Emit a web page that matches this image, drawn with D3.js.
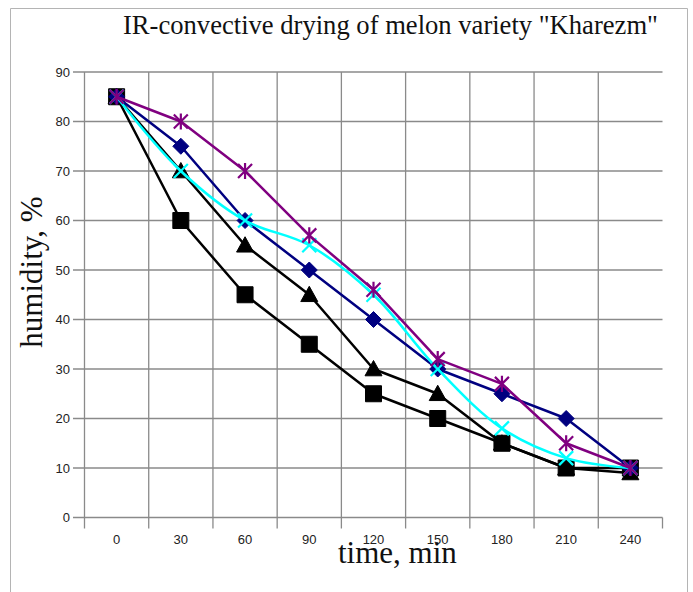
<!DOCTYPE html>
<html>
<head>
<meta charset="utf-8">
<script src="https://cdn.jsdelivr.net/npm/d3@7"></script>
<style>
  html, body { margin: 0; padding: 0; background: #fff; }
  svg { display: block; }
</style>
</head>
<body>
<script>
const categories = [0, 30, 60, 90, 120, 150, 180, 210, 240];
const yTicks = [0, 10, 20, 30, 40, 50, 60, 70, 80, 90];
const squares   = [85, 60, 45, 35, 25, 20, 15, 10, 10];
const triangles = [85, 70, 55, 45, 30, 25, 15, 10, 9];
const diamonds  = [85, 75, 60, 50, 40, 30, 25, 20, 10];
const crosses   = [85, 70, 60, 55, 45, 30, 18, 12, 10];
const stars     = [85, 80, 70, 57, 46, 32, 27, 15, 10];

const W = 693, H = 592;
const svg = d3.select("body").append("svg").attr("width", W).attr("height", H);

// outer frame
svg.append("path").attr("d", `M10.5,${H}V8.5H687.5V${H}`)
  .attr("fill", "none").attr("stroke", "#b4b4b4").attr("stroke-width", 1);

const x = d3.scaleBand().domain(categories).range([84.5, 662.5]).paddingInner(0).paddingOuter(0);
const y = d3.scaleLinear().domain([0, 90]).range([517.5, 72]);
const cx = c => x(c) + x.bandwidth() / 2;

const grid = svg.append("g").attr("stroke", "#8a8a8a").attr("stroke-width", 1.3);
yTicks.forEach(t => {
  grid.append("line").attr("x1", 73).attr("x2", 662.5).attr("y1", y(t)).attr("y2", y(t));
});
categories.forEach(c => {
  grid.append("line").attr("x1", x(c)).attr("x2", x(c)).attr("y1", y(90)).attr("y2", y(0) + 11);
});
grid.append("line").attr("x1", x.range()[1]).attr("x2", x.range()[1]).attr("y1", y(0)).attr("y2", y(0) + 11);

// tick labels
const lab = svg.append("g").attr("font-family", "Liberation Sans, Arial, sans-serif")
  .attr("font-size", 13).attr("fill", "#222");
yTicks.forEach(t => {
  lab.append("text").attr("x", 70).attr("y", y(t)).attr("dy", "0.35em")
    .attr("text-anchor", "end").text(t);
});
categories.forEach(c => {
  lab.append("text").attr("x", cx(c)).attr("y", 544)
    .attr("text-anchor", "middle").text(c);
});

// titles
svg.append("text").attr("x", 123).attr("y", 34)
  .attr("font-family", "Liberation Serif, Times New Roman, serif").attr("font-size", 26.6)
  .attr("fill", "#111").text('IR-convective drying of melon variety "Kharezm"');
svg.append("text").attr("x", 338).attr("y", 563)
  .attr("font-family", "Liberation Serif, Times New Roman, serif").attr("font-size", 31)
  .attr("fill", "#111").text("time, min");
svg.append("text").attr("transform", "translate(42,272) rotate(-90)")
  .attr("text-anchor", "middle")
  .attr("font-family", "Liberation Serif, Times New Roman, serif").attr("font-size", 31)
  .attr("fill", "#111").text("humidity, %");

// marker shapes
const sq = s => `M${-s},${-s}H${s}V${s}H${-s}Z`;
const tri = s => `M0,${-s}L${s},${s*0.8}L${-s},${s*0.8}Z`;
const dia = s => `M0,${-s}L${s},0L0,${s}L${-s},0Z`;
const xm = s => `M${-s},${-s}L${s},${s}M${s},${-s}L${-s},${s}`;
const ast = s => `M${-s},${-s}L${s},${s}M${s},${-s}L${-s},${s}M0,${-s*1.15}V${s*1.15}`;

const series = [
  { data: squares, color: "#000000", shape: sq(8), fill: true, curve: d3.curveLinear },
  { data: triangles, color: "#000000", shape: tri(8.5), fill: true, curve: d3.curveLinear },
  { data: diamonds, color: "#000080", shape: dia(8), fill: true, curve: d3.curveLinear },
  { data: crosses, color: "#00ffff", shape: xm(7), fill: false, curve: d3.curveCatmullRom.alpha(0.5) },
  { data: stars, color: "#800080", shape: ast(7), fill: false, curve: d3.curveLinear }
];

series.forEach(s => {
  const line = d3.line().x((d, i) => cx(categories[i])).y(d => y(d)).curve(s.curve);
  svg.append("path").datum(s.data).attr("d", line)
    .attr("fill", "none").attr("stroke", s.color).attr("stroke-width", 2.5)
    .attr("stroke-linejoin", "round");
  svg.append("g").selectAll("path").data(s.data).join("path")
    .attr("transform", (d, i) => `translate(${cx(categories[i])},${y(d)})`)
    .attr("d", s.shape)
    .attr("fill", s.fill ? s.color : "none")
    .attr("stroke", s.color).attr("stroke-width", s.fill ? 1 : 2.2);
});
</script>
</body>
</html>
